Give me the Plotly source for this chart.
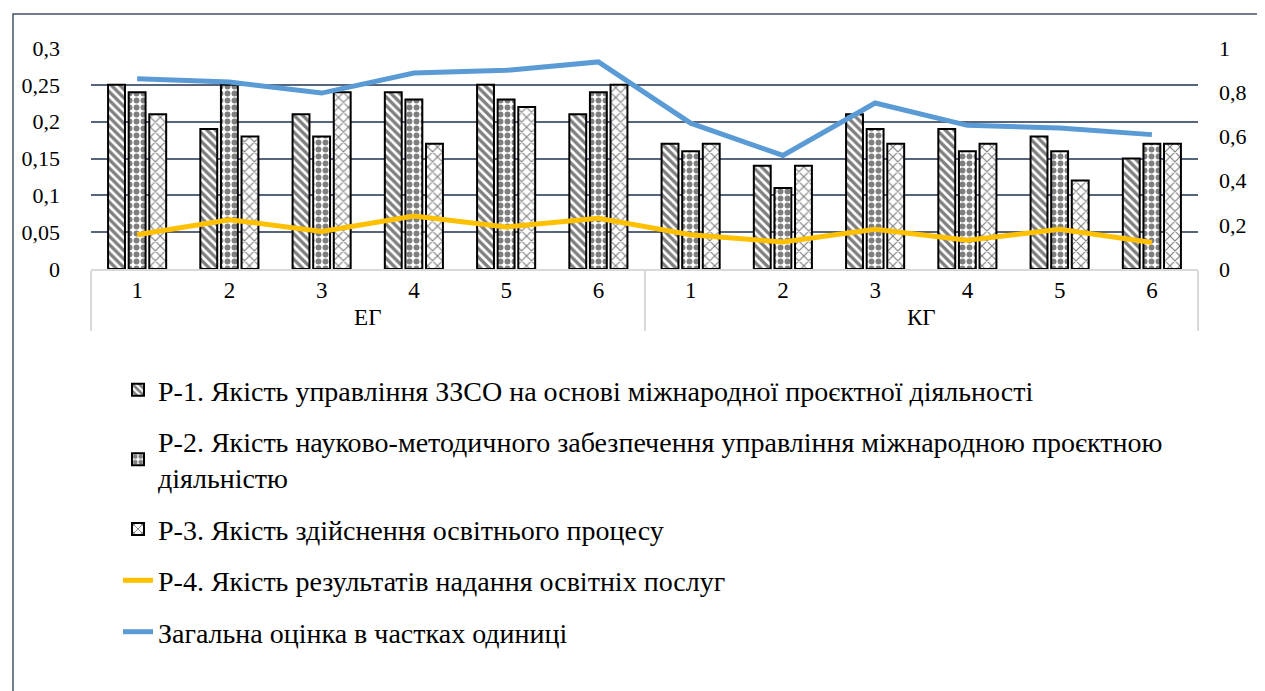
import plotly.graph_objects as go

groups = ["ЕГ"] * 6 + ["КГ"] * 6
nums = ["1", "2", "3", "4", "5", "6"] * 2

r1 = [0.25, 0.19, 0.21, 0.24, 0.25, 0.21, 0.17, 0.14, 0.21, 0.19, 0.18, 0.15]
r2 = [0.24, 0.25, 0.18, 0.23, 0.23, 0.24, 0.16, 0.11, 0.19, 0.16, 0.16, 0.17]
r3 = [0.21, 0.18, 0.24, 0.17, 0.22, 0.25, 0.17, 0.14, 0.17, 0.17, 0.12, 0.17]
r4 = [0.155, 0.223, 0.17, 0.24, 0.19, 0.23, 0.155, 0.122, 0.18, 0.13, 0.18, 0.12]
total = [0.861, 0.846, 0.796, 0.887, 0.899, 0.937, 0.66, 0.514, 0.751, 0.65, 0.638, 0.608]

names = [
    "Р-1. Якість управління ЗЗСО на основі міжнародної проєктної діяльності",
    "Р-2. Якість науково-методичного забезпечення управління міжнародною проєктною<br>діяльністю",
    "Р-3. Якість здійснення освітнього процесу",
    "Р-4. Якість результатів надання освітніх послуг",
    "Загальна оцінка в частках одиниці",
]

left_ticks = [0, 0.05, 0.1, 0.15, 0.2, 0.25, 0.3]
left_text = ["0", "0,05", "0,1", "0,15", "0,2", "0,25", "0,3"]
right_ticks = [0, 0.2, 0.4, 0.6, 0.8, 1]
right_text = ["0", "0,2", "0,4", "0,6", "0,8", "1"]

FONT = "Liberation Serif"
x = [groups, nums]

fig = go.Figure()
patterns = [
    dict(shape="\\", size=6, solidity=0.55),
    dict(shape=".", size=7, solidity=0.55),
    dict(shape="x", size=7, solidity=0.3),
]
for i, (vals, pat) in enumerate(zip([r1, r2, r3], patterns)):
    fig.add_trace(go.Bar(
        x=x, y=vals, name=names[i], legendgroup=f"g{i}",
        marker=dict(color="white",
                    line=dict(color="black", width=2),
                    pattern=dict(fgcolor="black", bgcolor="white",
                                 fillmode="overlay", **pat)),
    ))

fig.add_trace(go.Scatter(
    x=x, y=r4, name=names[3], legendgroup="g3", yaxis="y2", mode="lines",
    line=dict(color="#FFC000", width=5),
))
fig.add_trace(go.Scatter(
    x=x, y=total, name=names[4], legendgroup="g4", yaxis="y2", mode="lines",
    line=dict(color="#5B9BD5", width=5),
))

fig.update_layout(
    width=1265, height=691,
    paper_bgcolor="white", plot_bgcolor="white",
    margin=dict(l=83, r=75, t=40, b=430, autoexpand=False),
    font=dict(family=FONT, size=22, color="black"),
    barmode="group", bargap=0.33, bargroupgap=0.18,
    xaxis=dict(
        type="multicategory",
        showline=True, linecolor="#d9d9d9", linewidth=1.5,
        showdividers=True, dividercolor="#d9d9d9", dividerwidth=1.5,
        tickfont=dict(family=FONT, size=23, color="black"),
        ticks="", showgrid=False, automargin=False,
    ),
    yaxis=dict(
        range=[0, 0.3], tickvals=left_ticks, ticktext=left_text,
        showgrid=True, gridcolor="#56647c", gridwidth=1.5,
        zeroline=False, ticks="", ticklen=0, automargin=False,
        ticklabelstandoff=30,
        tickfont=dict(family=FONT, size=22, color="black"),
    ),
    yaxis2=dict(
        range=[0, 1], tickvals=right_ticks, ticktext=right_text,
        overlaying="y", side="right", showgrid=False, zeroline=False,
        automargin=False, ticklabelstandoff=20,
        tickfont=dict(family=FONT, size=22, color="black"),
    ),
    legend=dict(
        x=(110 - 83) / 1107, y=(261 - 357) / 221,
        xanchor="left", yanchor="top",
        traceorder="grouped", tracegroupgap=12,
        font=dict(family=FONT, size=28, color="black"),
        bgcolor="rgba(0,0,0,0)",
    ),
    showlegend=True,
)

# outer chart frame
fig.add_shape(type="rect", xref="paper", yref="paper",
              x0=(5 - 83) / 1107, x1=(1264 - 83) / 1107,
              y0=(261 - 700) / 221, y1=(261 - 6) / 221,
              line=dict(color="#44546a", width=1.5), fillcolor="rgba(0,0,0,0)",
              layer="below")

fig.write_html("out.html")
